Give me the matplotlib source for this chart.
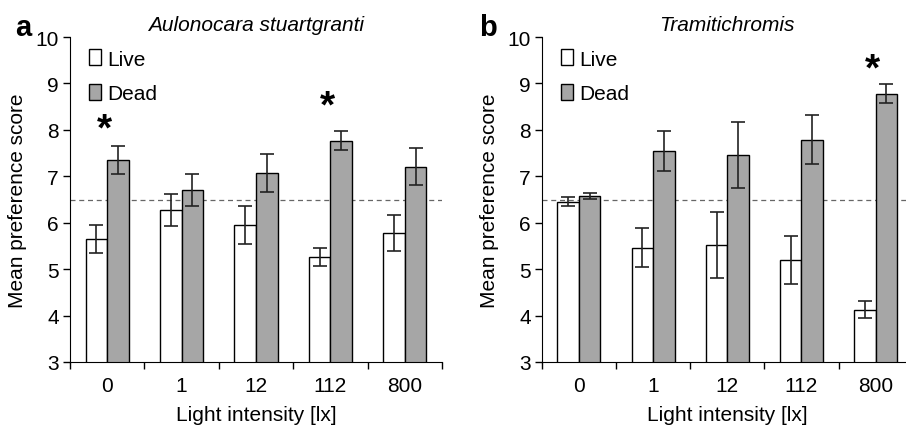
import numpy as np
import matplotlib.pyplot as plt
from matplotlib.patches import Patch

plt.rcParams['font.family'] = ['Liberation Sans', 'DejaVu Sans']

# categories
intensity = ['0', '1', '12', '112', '800']

# panel a: Aulonocara stuartgranti
a_live = [5.65, 6.28, 5.95, 5.26, 5.78]
a_live_err = [0.30, 0.34, 0.40, 0.19, 0.38]
a_dead = [7.36, 6.71, 7.07, 7.77, 7.21]
a_dead_err = [0.30, 0.34, 0.40, 0.20, 0.40]
a_stars = [(0, 8.0), (3, 8.5)]

# panel b: Tramitichromis
b_live = [6.45, 5.46, 5.52, 5.19, 4.13]
b_live_err = [0.10, 0.42, 0.71, 0.52, 0.19]
b_dead = [6.58, 7.54, 7.46, 7.79, 8.78]
b_dead_err = [0.07, 0.43, 0.71, 0.53, 0.20]
b_stars = [(4, 9.3)]

chance = 6.5

fig = plt.figure(figsize=(9.06, 4.27), dpi=100)
ax_a = fig.add_axes([0.0773, 0.1499, 0.4106, 0.761])
ax_b = fig.add_axes([0.598, 0.1499, 0.4095, 0.761])

panels = [
    (ax_a, a_live, a_live_err, a_dead, a_dead_err, a_stars, 'Aulonocara stuartgranti', 'a'),
    (ax_b, b_live, b_live_err, b_dead, b_dead_err, b_stars, 'Tramitichromis', 'b'),
]

x = np.arange(len(intensity))
w = 0.29
err_kw = dict(ecolor='#222222', elinewidth=1.2, capsize=5, capthick=1.2)
fs = 15

for ax, live, live_err, dead, dead_err, stars, title, letter in panels:
    ax.bar(x - w / 2, live, w, yerr=live_err, color='white', edgecolor='black',
           linewidth=1, error_kw=err_kw, zorder=2)
    ax.bar(x + w / 2, dead, w, yerr=dead_err, color='#a6a6a6', edgecolor='black',
           linewidth=1, error_kw=err_kw, zorder=2)
    ax.axhline(chance, color='#666666', linewidth=0.9, dashes=(4, 3), zorder=1)
    for i, yv in stars:
        ax.text(i - 0.04, yv, '*', ha='center', va='center', fontsize=28, fontweight='bold')

    ax.set_xlim(-0.5, len(intensity) - 0.5)
    ax.set_ylim(3, 10)
    ax.set_yticks(range(3, 11))
    ax.set_xticks(x)
    ax.set_xticklabels(intensity)
    ax.set_xticks(np.arange(len(intensity) + 1) - 0.5, minor=True)
    ax.tick_params(axis='x', which='major', length=0, pad=10, labelsize=fs)
    ax.tick_params(axis='x', which='minor', length=5, width=1, direction='out')
    ax.tick_params(axis='y', length=5, width=1, direction='out', pad=3, labelsize=fs)
    ax.spines['top'].set_visible(False)
    ax.spines['right'].set_visible(False)
    ax.set_ylabel('Mean preference score', fontsize=fs)
    ax.yaxis.set_label_coords(-0.115, 0.5)
    ax.set_xlabel('Light intensity [lx]', fontsize=fs, labelpad=7)
    ax.set_title(title, fontsize=fs, style='italic', pad=5)

    handles = [Patch(facecolor='white', edgecolor='black', linewidth=1),
               Patch(facecolor='#a6a6a6', edgecolor='black', linewidth=1)]
    ax.legend(handles, ['Live', 'Dead'], loc='upper left', frameon=False,
              fontsize=fs, handlelength=0.6, handleheight=0.8, handletextpad=0.3,
              labelspacing=0.75, bbox_to_anchor=(0.0, 1.02))

fig.text(0.017, 0.915, 'a', fontsize=21, fontweight='bold')
fig.text(0.529, 0.915, 'b', fontsize=21, fontweight='bold')

fig.savefig('out.png', dpi=100)
